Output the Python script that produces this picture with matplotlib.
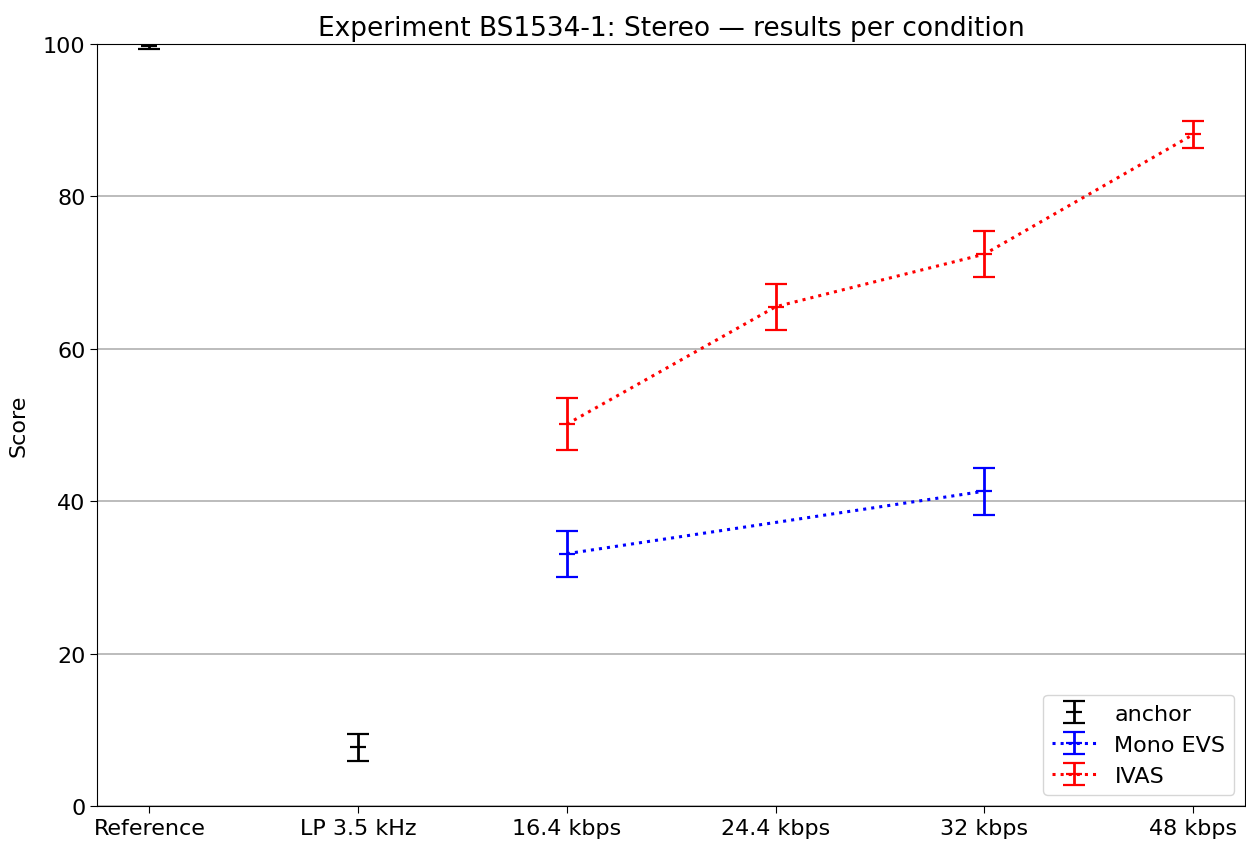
import matplotlib
matplotlib.use("Agg")
import matplotlib.pyplot as plt

categories = ["Reference", "LP 3.5 kHz", "16.4 kbps", "24.4 kbps", "32 kbps", "48 kbps"]

anchor_x = [0, 1]
anchor_mean = [99.7, 7.7]
anchor_err = [0.35, 1.8]

evs_x = [2, 4]
evs_mean = [33.1, 41.3]
evs_err = [3.0, 3.1]

ivas_x = [2, 3, 4, 5]
ivas_mean = [50.1, 65.5, 72.4, 88.1]
ivas_err = [3.4, 3.0, 3.0, 1.75]

fig = plt.figure(figsize=(12.46, 8.45), dpi=100)
ax = fig.add_axes([0.078, 0.045, 0.9215, 0.902])

kw = dict(marker="_", markersize=12, markeredgewidth=1.6, capsize=8,
          elinewidth=2, capthick=2, linewidth=2.2)
ax.errorbar(anchor_x, anchor_mean, yerr=anchor_err, color="black", linestyle="none",
            label="anchor", **kw)
ax.errorbar(evs_x, evs_mean, yerr=evs_err, color="blue", linestyle=":",
            label="Mono EVS", **kw)
ax.errorbar(ivas_x, ivas_mean, yerr=ivas_err, color="red", linestyle=":",
            label="IVAS", **kw)

ax.set_xticks(range(len(categories)))
ax.set_xticklabels(categories, fontsize=16)
ax.set_xlim(-0.25, 5.25)
ax.set_ylim(0, 100)
ax.set_yticks([0, 20, 40, 60, 80, 100])
ax.tick_params(axis="both", labelsize=16, length=5)
ax.set_ylabel("Score", fontsize=16, labelpad=10)
ax.yaxis.grid(True, color="#b0b0b0", linewidth=1.2)
ax.set_axisbelow(True)
ax.set_title("Experiment BS1534-1: Stereo \u2014 results per condition", fontsize=19)
ax.legend(loc="lower right", fontsize=16)

fig.savefig("out.png", dpi=100)
